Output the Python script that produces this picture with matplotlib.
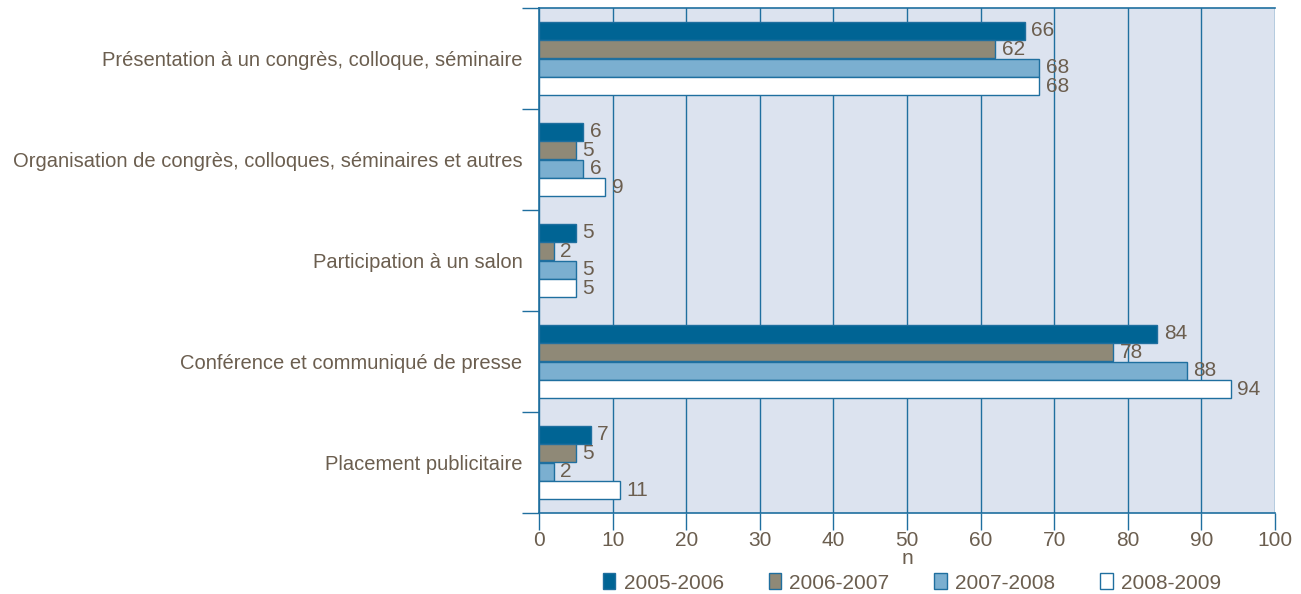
import matplotlib
matplotlib.use("Agg")
import matplotlib.pyplot as plt
import numpy as np
from matplotlib.patches import Patch
from matplotlib import font_manager as fm

categories = [
    "Présentation à un congrès, colloque, séminaire",
    "Organisation de congrès, colloques, séminaires et autres",
    "Participation à un salon",
    "Conférence et communiqué de presse",
    "Placement publicitaire",
]
series_names = ["2005-2006", "2006-2007", "2007-2008", "2008-2009"]
v2005 = [66, 6, 5, 84, 7]
v2006 = [62, 5, 2, 78, 5]
v2007 = [68, 6, 5, 88, 2]
v2008 = [68, 9, 5, 94, 11]
series = [v2005, v2006, v2007, v2008]
colors = ["#006494", "#8f8977", "#7bafd0", "#ffffff"]
xticks = list(range(0, 101, 10))

text_color = "#6b5e4f"
line_color = "#1f6f9f"


def has_font(name):
    try:
        fm.findfont(fm.FontProperties(family=name), fallback_to_default=False)
        return True
    except Exception:
        return False


if has_font("Liberation Sans Narrow"):
    fam = "Liberation Sans Narrow"
    cat_fs, num_fs = 15.5, 15.5
else:
    fam = "Liberation Sans"
    cat_fs, num_fs = 14.5, 15
plt.rcParams["font.family"] = [fam, "DejaVu Sans"]

fig = plt.figure(figsize=(13.01, 5.94), dpi=100)
ax = fig.add_axes([539 / 1301, 1 - 513 / 594, (1275 - 539) / 1301, (513 - 8) / 594])
ax.set_facecolor("#dce3ef")

n = len(categories)
y = np.arange(n)
pitch = 0.182
h = 0.175
for i, (vals, c) in enumerate(zip(series, colors)):
    pos = y + (i - 1.5) * pitch
    ax.barh(pos, vals, height=h, color=c, edgecolor=line_color, linewidth=1, zorder=3)
    for p, v in zip(pos, vals):
        ax.text(v + 0.9, p, str(v), va="center", ha="left", fontsize=num_fs, color=text_color, zorder=4)

ax.set_xlim(0, 100)
ax.set_ylim(n - 0.5, -0.5)
ax.set_xticks(xticks)
ax.set_xticklabels([str(t) for t in xticks], fontsize=num_fs, color=text_color)
ax.set_yticks(y)
ax.set_yticklabels(categories, fontsize=cat_fs, color=text_color)
ax.tick_params(axis="y", which="major", length=0, pad=12)
ax.set_yticks(np.arange(-0.5, n, 1.0), minor=True)
ax.tick_params(axis="y", which="minor", length=12, color=line_color, width=1)
ax.tick_params(axis="x", which="major", length=12, color=line_color, width=1, pad=1)
ax.xaxis.grid(True, color=line_color, linewidth=1, zorder=1)
ax.set_axisbelow(True)
for s in ["left", "bottom", "top"]:
    ax.spines[s].set_color(line_color)
    ax.spines[s].set_linewidth(1.2)
ax.spines["right"].set_visible(False)
ax.set_xlabel("n", fontsize=num_fs, color=text_color, labelpad=-1)

handles = [Patch(facecolor=c, edgecolor=line_color, linewidth=1) for c in colors]
fig.legend(handles, series_names, loc="center", ncol=4, frameon=False,
           bbox_to_anchor=(912 / 1301, 1 - 583 / 594), fontsize=num_fs,
           handlelength=0.6, handleheight=0.8, handletextpad=0.4,
           columnspacing=2.15, labelcolor=text_color, borderaxespad=0)

fig.savefig("out.png", dpi=100)
